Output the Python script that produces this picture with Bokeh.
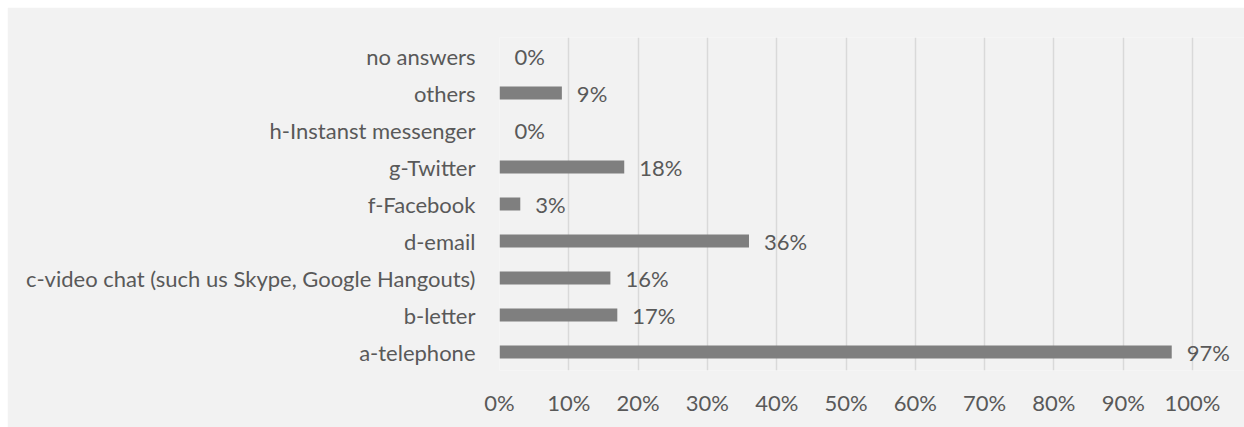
from bokeh.plotting import figure
from bokeh.models import ColumnDataSource, FactorRange, Range1d, FixedTicker
from bokeh.core.properties import value
from bokeh.embed import file_html
from bokeh.resources import INLINE

categories = ["a-telephone", "b-letter", "c-video chat (such us Skype, Google Hangouts)",
              "d-email", "f-Facebook", "g-Twitter", "h-Instanst messenger", "others", "no answers"]
values = [97, 17, 16, 36, 3, 18, 0, 9, 0]
x_ticks = [0, 10, 20, 30, 40, 50, 60, 70, 80, 90, 100]

FONT = "Lato"
TXT = "#595959"
FS = "22px"

src = ColumnDataSource(dict(cat=categories, val=values,
                            lbl=[f"{v}%" for v in values]))

p = figure(width=1237, height=420, y_range=FactorRange(*categories),
           x_range=Range1d(0, 107.5), output_backend="svg", toolbar_location=None,
           min_border_left=492, min_border_right=0, min_border_top=30, min_border_bottom=57,
           background_fill_color="#F2F2F2", border_fill_color="#F2F2F2",
           outline_line_color=None, margin=(7, 0, 0, 7))

p.hbar(y="cat", right="val", left=0, height=0.35, source=src,
       fill_color="#7F7F7F", line_color=None)
p.text(x="val", y="cat", text="lbl", source=src, x_offset=15,
       text_baseline="middle", text_align="left", text_color=TXT,
       text_font=value(FONT), text_font_size=FS)

p.xaxis.ticker = FixedTicker(ticks=x_ticks)
p.xaxis.major_label_overrides = {t: f"{t}%" for t in x_ticks}
for ax in (p.xaxis[0], p.yaxis[0]):
    ax.axis_line_color = None
    ax.major_tick_line_color = None
    ax.minor_tick_line_color = None
    ax.major_label_text_color = TXT
    ax.major_label_text_font = FONT
    ax.major_label_text_font_size = FS
p.xaxis.major_label_standoff = 12
p.yaxis.major_label_standoff = 18

p.xgrid.grid_line_color = "#D9D9D9"
p.xgrid.grid_line_width = 1.5
p.ygrid.grid_line_color = None

open("out.html", "w").write(file_html(p, INLINE))
